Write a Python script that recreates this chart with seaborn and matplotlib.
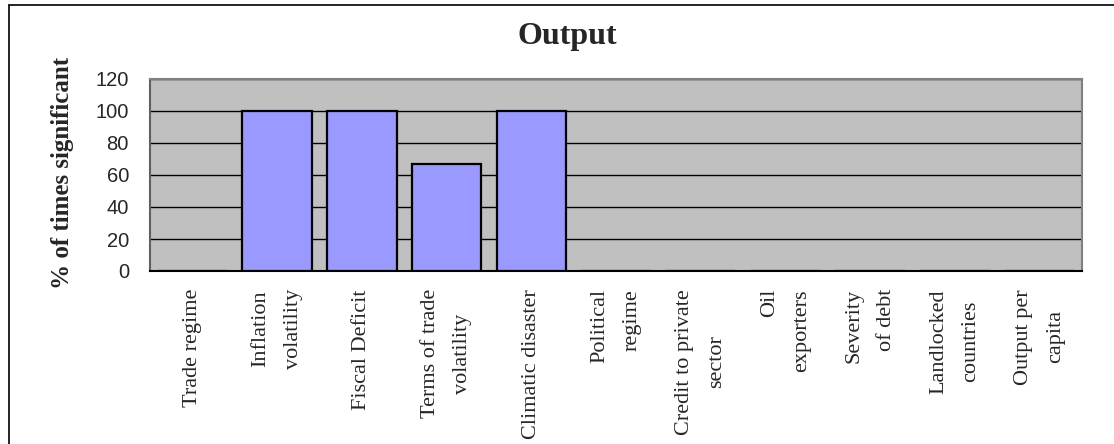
import numpy as np
import pandas as pd
import matplotlib
matplotlib.use("Agg")
import matplotlib.pyplot as plt
from matplotlib.lines import Line2D
import seaborn as sns

# ---- data ----
categories = ["Trade regime", "Inflation\nvolatility", "Fiscal Deficit",
              "Terms of trade\nvolatility", "Climatic disaster", "Political\nregime",
              "Credit to private\nsector", "Oil\nexporters", "Severity\nof debt",
              "Landlocked\ncountries", "Output per\ncapita"]
values = [0, 100, 100, 67, 100, 0, 0, 0, 0, 0, 0]
yticks = [0, 20, 40, 60, 80, 100, 120]
title = "Output"
ylabel = "% of times significant"

sns.set_style("white")
plt.rcParams['font.family'] = ['Liberation Serif', 'DejaVu Serif']

W, H = 1114, 444
fig = plt.figure(figsize=(W / 100, H / 100), dpi=100)
fig.patch.set_facecolor("white")

x0, x1, y0, y1 = 150, 1082, 79, 271
ax = fig.add_axes([x0 / W, 1 - y1 / H, (x1 - x0) / W, (y1 - y0) / H])
ax.set_facecolor("#C0C0C0")

df = pd.DataFrame({"cat": categories, "val": values})
sns.barplot(data=df, x="cat", y="val", order=categories, color="#9999FF",
            edgecolor="black", linewidth=1.6, width=0.82, saturation=1, ax=ax,
            zorder=3)

ax.set_ylim(0, 120)
ax.set_xlim(-0.5, len(categories) - 0.5)
ax.set_yticks(yticks)
ax.yaxis.grid(True, color="black", linewidth=1.0, zorder=1)
ax.set_axisbelow(True)
ax.set_xlabel("")
ax.set_ylabel("")

for s in ["top", "right"]:
    ax.spines[s].set_color("#808080")
    ax.spines[s].set_linewidth(1.5)
ax.spines["left"].set_color("#606060")
ax.spines["left"].set_linewidth(1.5)
ax.spines["bottom"].set_color("black")
ax.spines["bottom"].set_linewidth(1.5)

# y tick labels
ax.tick_params(axis="y", direction="out", length=7.2, width=1, color="black",
               pad=8, labelsize=14.5)
for lab in ax.get_yticklabels():
    lab.set_family(['Liberation Sans', 'DejaVu Sans'])

# x ticks: major at centers (out), minor at boundaries (in)
ax.set_xticks(np.arange(len(categories)))
ax.set_xticks(np.arange(len(categories) + 1) - 0.5, minor=True)
ax.tick_params(axis="x", which="major", direction="out", length=3, width=1,
               color="black", pad=10)
ax.tick_params(axis="x", which="minor", direction="in", length=4.5, width=1.5,
               color="#808080")
ax.set_xticklabels(categories, rotation=90, fontsize=16, va="top", ha="center",
                   linespacing=1.95)
aligns = {"Political\nregime": "right", "Oil\nexporters": "right",
          "Severity\nof debt": "right"}
for lab in ax.get_xticklabels():
    lab.set_multialignment(aligns.get(lab.get_text(), "center"))

# title and y label
fig.text(567 / W, 1 - 36 / H, title, ha="center", va="center",
         fontsize=23, fontweight="bold")
fig.text(62 / W, 1 - 173 / H, ylabel, ha="center", va="center", rotation=90,
         fontsize=18, fontweight="bold")

# chart frame (left and top edges visible)
fig.add_artist(Line2D([9 / W, 9 / W], [0, 1 - 5 / H], color="black", linewidth=1.2,
                      transform=fig.transFigure))
fig.add_artist(Line2D([9 / W, 1], [1 - 5 / H, 1 - 5 / H], color="black", linewidth=1.2,
                      transform=fig.transFigure))

fig.savefig("out.png", dpi=100)
